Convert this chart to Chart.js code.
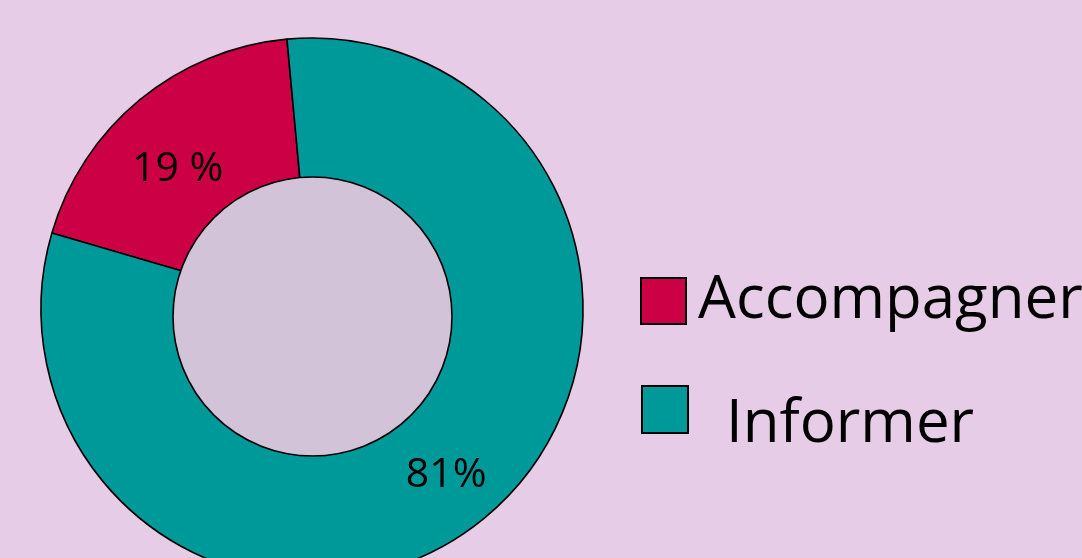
<!DOCTYPE html>
<html>
<head>
<meta charset="utf-8">
<script src="https://cdn.jsdelivr.net/npm/chart.js@4.4.0/dist/chart.umd.min.js"></script>
<style>
  html, body { margin: 0; padding: 0; background: #E6CCE6; overflow: hidden; }
  #wrap { width: 1082px; height: 620px; }
</style>
</head>
<body>
<div id="wrap"><canvas id="donut" width="1082" height="620"></canvas></div>
<script>
// Données du graphique
const categories = ['Accompagner', 'Informer'];
const valeurs = [19, 81];
const etiquettes = ['19 %', '81%'];
const couleurs = ['#CC0044', '#009999'];

// Cercle central (trou) et pourcentages dessinés à la main
const cercleCentral = {
    id: 'cercleCentral',
    afterDatasetsDraw(chart) {
        const ctx = chart.ctx;
        const arcs = chart.getDatasetMeta(0).data;
        const a0 = arcs[0];

        // disque intérieur, légèrement décalé vers le bas comme l'original
        ctx.save();
        ctx.beginPath();
        ctx.arc(a0.x + 0.5, a0.y + 7.5, 139.5, 0, Math.PI * 2);
        ctx.fillStyle = '#D3C3D9';
        ctx.fill();
        ctx.lineWidth = 1.6;
        ctx.strokeStyle = '#000';
        ctx.stroke();

        // pourcentages sur les parts
        ctx.font = '41px "Open Sans"';
        ctx.fillStyle = '#000';
        ctx.textAlign = 'center';
        ctx.textBaseline = 'middle';
        const rayons = [197, 211];
        const decalages = [[-9, 12], [0, 4]];
        arcs.forEach(function (arc, i) {
            const milieu = (arc.startAngle + arc.endAngle) / 2;
            const x = arc.x + Math.cos(milieu) * rayons[i] + decalages[i][0];
            const y = arc.y + Math.sin(milieu) * rayons[i] + decalages[i][1];
            ctx.fillText(etiquettes[i], x, y);
        });
        ctx.restore();
    }
};

// Légende à droite, carrés bordés de noir
const legendePerso = {
    id: 'legendePerso',
    afterDraw(chart) {
        const ctx = chart.ctx;
        const cases = [
            { x: 641, y: 278, w: 45, h: 46, tx: 698, ty: 318 },
            { x: 642, y: 386, w: 46, h: 47, tx: 726, ty: 442 }
        ];
        ctx.save();
        ctx.font = '60px "Open Sans"';
        ctx.textBaseline = 'alphabetic';
        ctx.textAlign = 'left';
        chart.data.labels.forEach(function (lab, i) {
            const c = cases[i];
            ctx.fillStyle = chart.data.datasets[0].backgroundColor[i];
            ctx.fillRect(c.x, c.y, c.w, c.h);
            ctx.lineWidth = 2;
            ctx.strokeStyle = '#000';
            ctx.strokeRect(c.x, c.y, c.w, c.h);
            ctx.fillStyle = '#000';
            ctx.fillText(lab, c.tx, c.ty);
        });
        ctx.restore();
    }
};

const ctx = document.getElementById('donut').getContext('2d');
const graphique = new Chart(ctx, {
    type: 'doughnut',
    data: {
        labels: categories,
        datasets: [{
            data: valeurs,
            backgroundColor: couleurs,
            borderColor: '#000',
            borderWidth: 1.6,
            borderAlign: 'center'
        }]
    },
    options: {
        responsive: false,
        devicePixelRatio: 1,
        animation: false,
        rotation: -73.7,
        radius: 271,
        cutout: 128,
        layout: {
            padding: { left: 41, top: 38, right: 499, bottom: 40 }
        },
        plugins: {
            legend: { display: false },
            tooltip: { enabled: false }
        }
    },
    plugins: [cercleCentral, legendePerso]
});
</script>
</body>
</html>
